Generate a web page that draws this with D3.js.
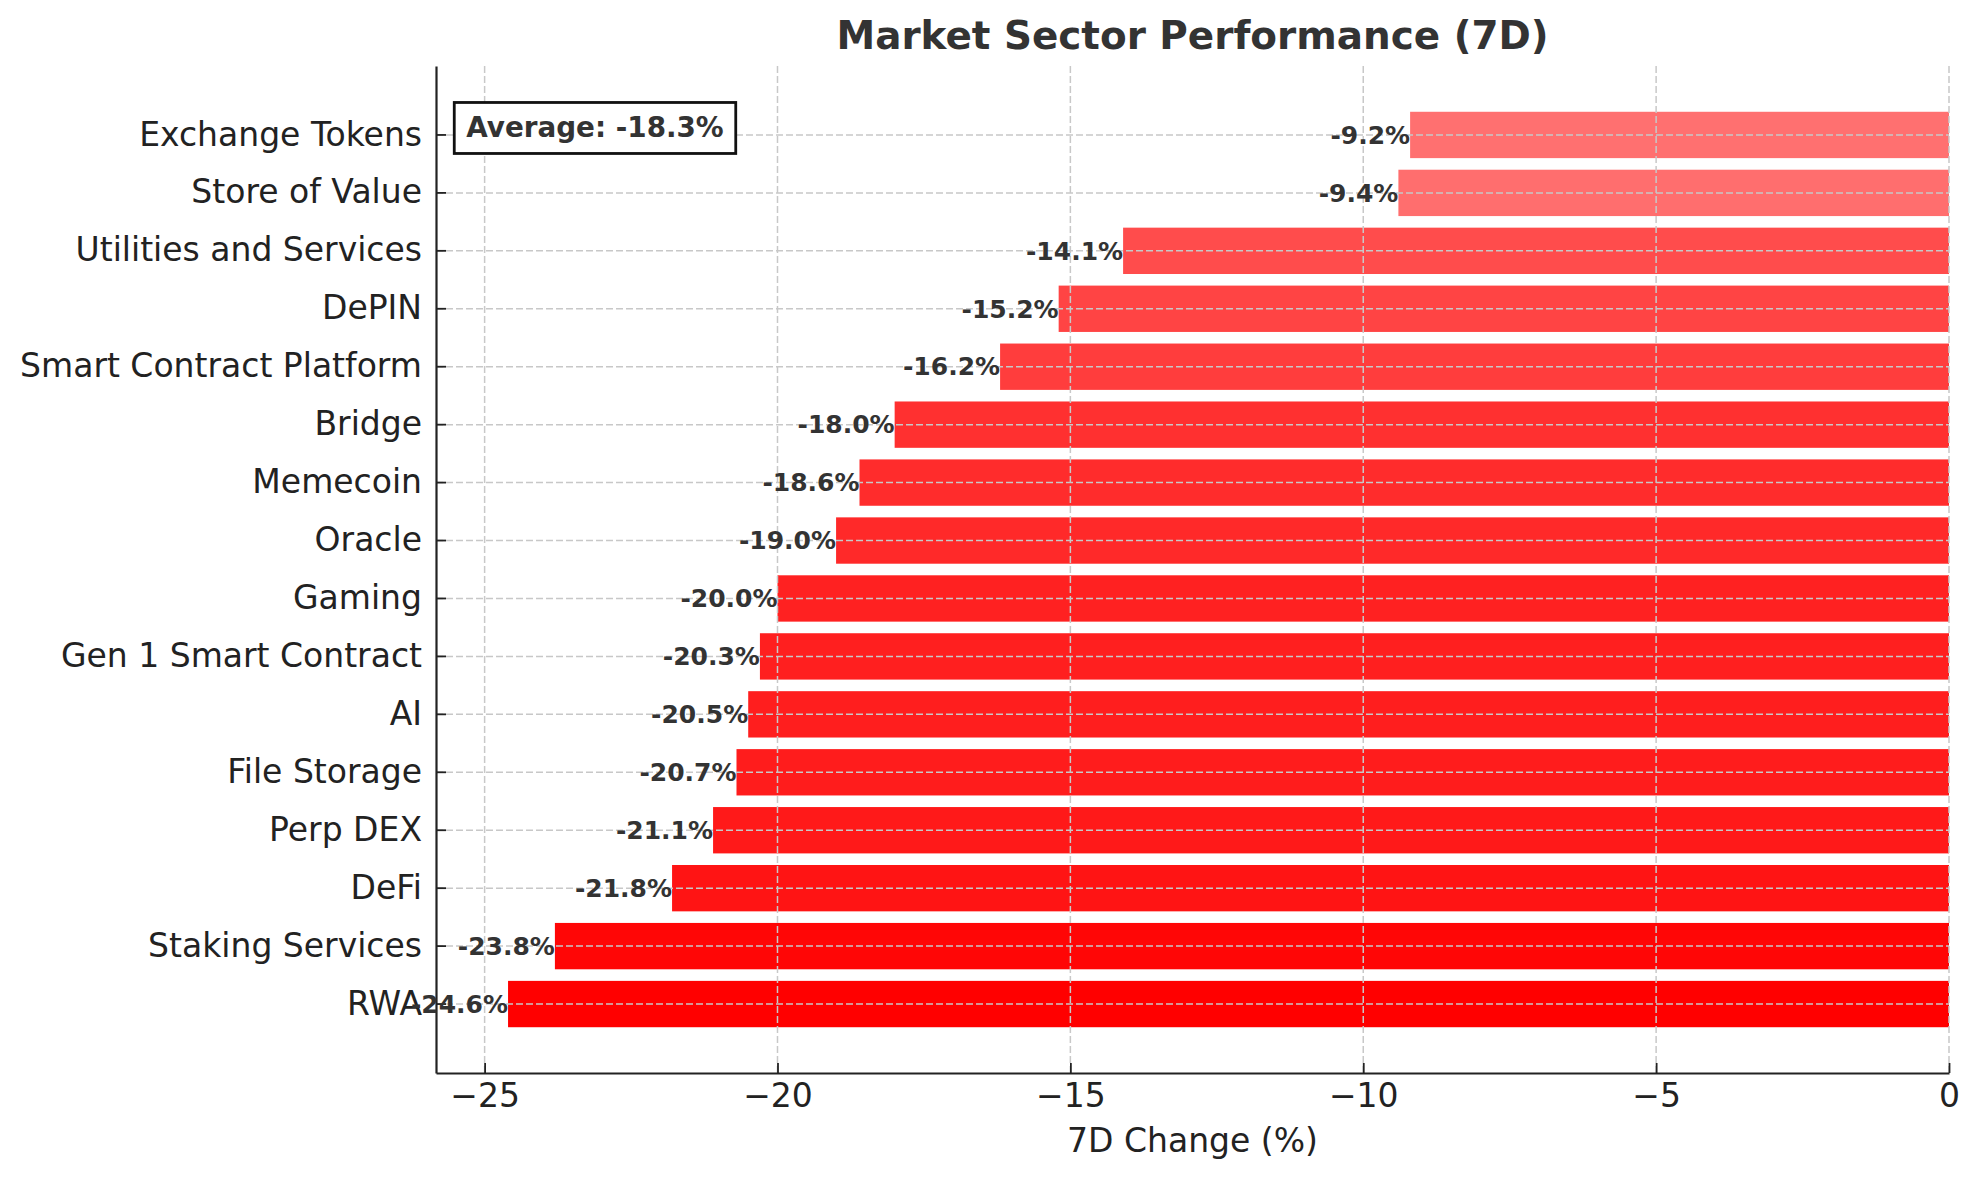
<!DOCTYPE html>
<html>
<head>
<meta charset="utf-8">
<script src="https://cdn.jsdelivr.net/npm/d3@7"></script>
<style>
  body { margin: 0; background: #fff; }
  text { font-family: "DejaVu Sans", sans-serif; }
</style>
</head>
<body>
<div id="chart"></div>
<script>
//data, top to bottom
var sectors = ["Exchange Tokens", "Store of Value", "Utilities and Services", "DePIN",
  "Smart Contract Platform", "Bridge", "Memecoin", "Oracle", "Gaming",
  "Gen 1 Smart Contract", "AI", "File Storage", "Perp DEX", "DeFi",
  "Staking Services", "RWA"];
var changes = [-9.2, -9.4, -14.1, -15.2, -16.2, -18.0, -18.6, -19.0, -20.0,
  -20.3, -20.5, -20.7, -21.1, -21.8, -23.8, -24.6];
var xTicks = [-25, -20, -15, -10, -5, 0];

var width = 1979;
var height = 1180;
var margin = {left: 436, right: 30, top: 66, bottom: 107};

// labels use a plain hyphen, ticks keep the unicode minus
function pctformat(v) { return v.toFixed(1) + "%"; }

var svg = d3.select("#chart")
    .append("svg")
    .attr("width", width)
    .attr("height", height);

svg.append("rect").attr("width", width).attr("height", height).attr("fill", "#fff");

var minVal = d3.min(changes);
var maxAbs = d3.max(changes, function(d) { return Math.abs(d); });

var x = d3.scaleLinear()
    .domain([minVal * 1.05, 0])
    .range([margin.left, width - margin.right]);

var y = d3.scaleBand()
    .domain(sectors)
    .range([margin.top, height - margin.bottom])
    .paddingInner(0.2)
    .paddingOuter(0.79);

// bars
svg.append("g")
    .selectAll("rect")
    .data(sectors)
    .enter()
    .append("rect")
    .attr("x", function(d, i) { return x(changes[i]); })
    .attr("y", function(d) { return y(d); })
    .attr("width", function(d, i) { return x(0) - x(changes[i]); })
    .attr("height", y.bandwidth())
    .attr("fill", "red")
    .attr("fill-opacity", function(d, i) { return 0.3 + 0.7 * Math.abs(changes[i]) / maxAbs; });

// grid on top of bars
var grid = svg.append("g")
    .attr("stroke", "#c8c8c8")
    .attr("stroke-width", 1.5)
    .attr("stroke-dasharray", "7,3");

grid.selectAll(".vgrid")
    .data(xTicks)
    .enter()
    .append("line")
    .attr("x1", function(d) { return x(d); })
    .attr("x2", function(d) { return x(d); })
    .attr("y1", margin.top)
    .attr("y2", height - margin.bottom);

grid.selectAll(".hgrid")
    .data(sectors)
    .enter()
    .append("line")
    .attr("x1", margin.left)
    .attr("x2", width - margin.right)
    .attr("y1", function(d) { return y(d) + y.bandwidth() / 2; })
    .attr("y2", function(d) { return y(d) + y.bandwidth() / 2; });

// axes
var xAxis = svg.append("g")
    .attr("transform", "translate(0," + (height - margin.bottom) + ")")
    .call(d3.axisBottom(x)
        .tickValues(xTicks)
        .tickFormat(d3.format("d"))
        .tickSizeInner(-10)
        .tickSizeOuter(0)
        .tickPadding(11));

var yAxis = svg.append("g")
    .attr("transform", "translate(" + margin.left + ",0)")
    .call(d3.axisLeft(y)
        .tickSizeInner(-10)
        .tickSizeOuter(0)
        .tickPadding(14));

[xAxis, yAxis].forEach(function(ax) {
    ax.select(".domain").attr("stroke", "#222").attr("stroke-width", 2.2);
    ax.selectAll(".tick line").attr("stroke", "#222").attr("stroke-width", 1.8);
    ax.selectAll(".tick text")
        .attr("fill", "#222")
        .style("font-family", "DejaVu Sans")
        .style("font-size", "33px");
});

// value labels
svg.append("g")
    .selectAll("text")
    .data(sectors)
    .enter()
    .append("text")
    .attr("x", function(d, i) { return x(changes[i]); })
    .attr("y", function(d) { return y(d) + y.bandwidth() / 2; })
    .attr("dy", "0.35em")
    .attr("text-anchor", "end")
    .attr("fill", "#333")
    .attr("font-weight", "bold")
    .style("font-size", "25px")
    .text(function(d, i) { return pctformat(changes[i]); });

// average box
var avg = d3.mean(changes);
var plotH = height - margin.bottom - margin.top;
var plotW = width - margin.right - margin.left;
var avgText = svg.append("text")
    .attr("x", margin.left + 0.02 * plotW)
    .attr("y", margin.top + 0.05 * plotH)
    .attr("dy", "0.76em")
    .attr("fill", "#333")
    .attr("font-weight", "bold")
    .style("font-size", "27.8px")
    .text("Average: " + pctformat(avg));
var bb = avgText.node().getBBox();
svg.insert("rect", function() { return avgText.node(); })
    .attr("x", bb.x - 12)
    .attr("y", bb.y - 9)
    .attr("width", bb.width + 24)
    .attr("height", bb.height + 18)
    .attr("fill", "#fff")
    .attr("stroke", "#111")
    .attr("stroke-width", 2.8);

// title and label
svg.append("text")
    .attr("x", (margin.left + width - margin.right) / 2)
    .attr("y", 49)
    .attr("text-anchor", "middle")
    .attr("fill", "#333")
    .attr("font-weight", "bold")
    .style("font-size", "38.9px")
    .text("Market Sector Performance (7D)");

svg.append("text")
    .attr("x", (margin.left + width - margin.right) / 2)
    .attr("y", 1152)
    .attr("text-anchor", "middle")
    .attr("fill", "#222")
    .style("font-size", "33px")
    .text("7D Change (%)");
</script>
</body>
</html>
